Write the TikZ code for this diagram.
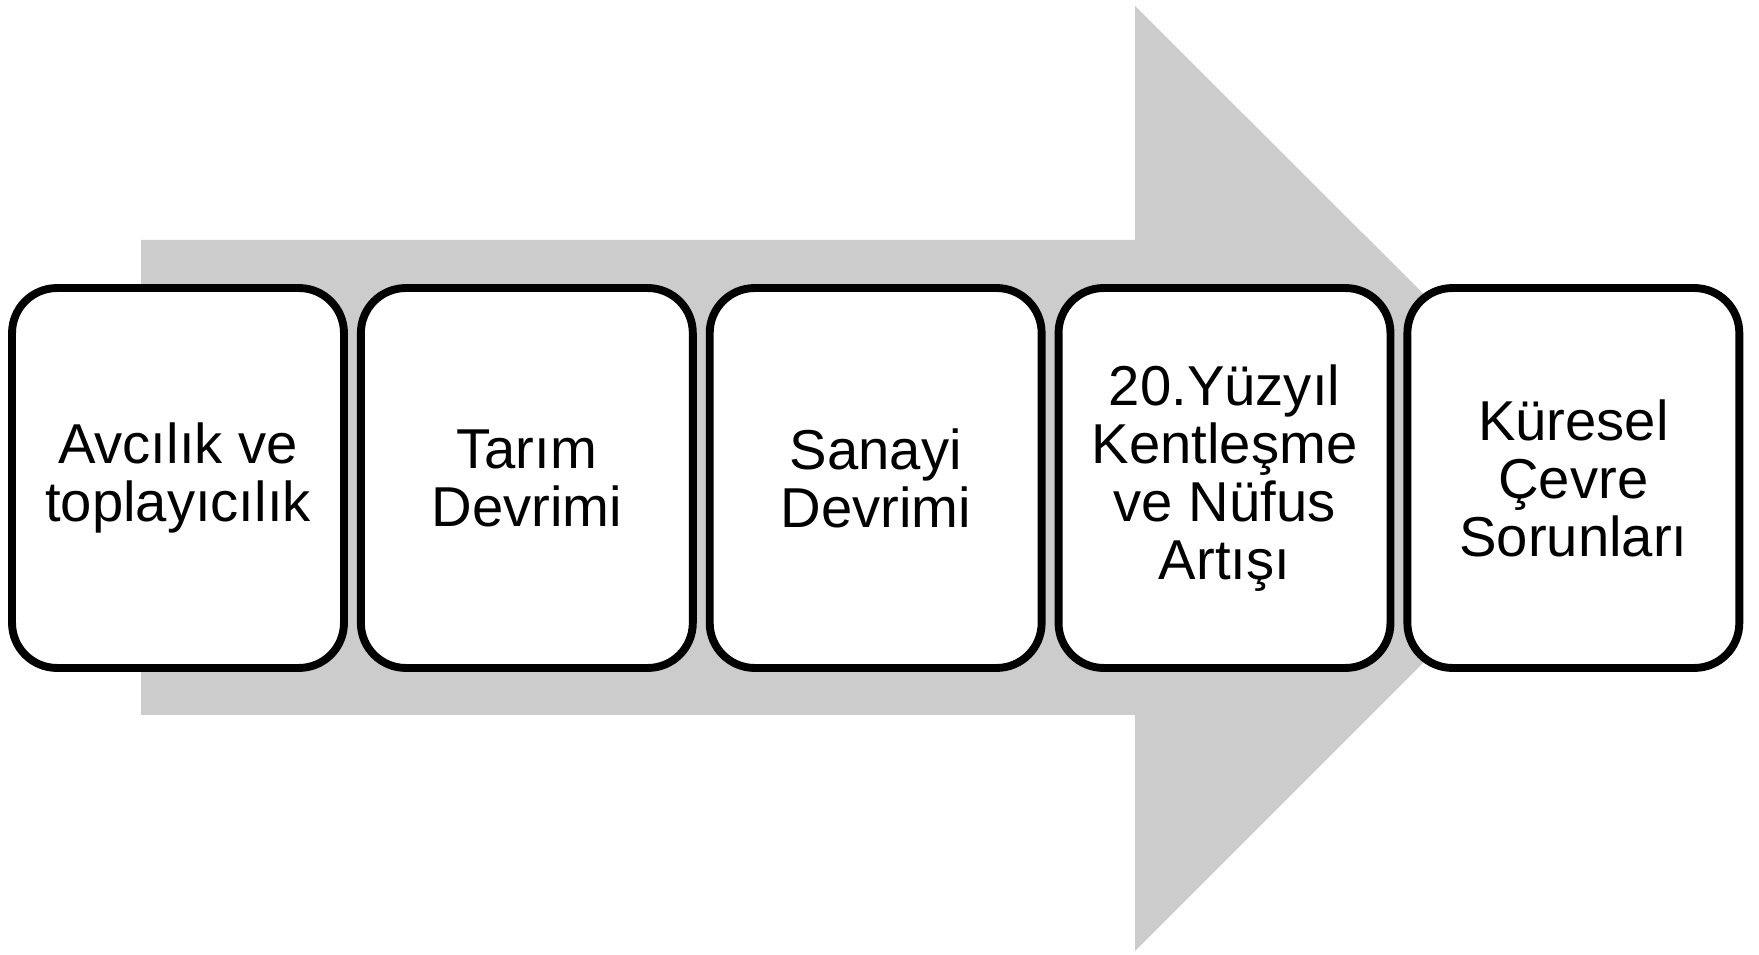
\documentclass[tikz,border=0pt]{standalone}
\usepackage{fontspec}
\setmainfont{Liberation Sans}
\usepackage{tikz}
\usetikzlibrary{positioning,backgrounds}
\definecolor{arrowgray}{RGB}{204,204,204}

\begin{document}
\begin{tikzpicture}[x=0.02cm,y=0.02cm,
		stage/.style={shape=rectangle,draw,line width=4.5pt,rounded corners=0.9cm,fill=white,
			minimum width=6.64cm,minimum height=7.6cm,align=center,
			font=\fontsize{32}{33}\selectfont}]
		\useasboundingbox (0,0) rectangle (1759,954);
		\node(1) at (178,476) [stage] {Avcılık ve\\toplayıcılık};
		\node(2) [right=0.18cm of 1,stage] {Tarım\\Devrimi};
		\node(3) [right=0.18cm of 2,stage] {Sanayi\\Devrimi};
		\node(4) [right=0.18cm of 3,stage] {20.Yüzyıl\\Kentleşme\\ve Nüfus\\Artışı};
		\node(5) [right=0.18cm of 4,stage] {Küresel\\Çevre\\Sorunları};
		\begin{scope}[on background layer]
			\fill [arrowgray] (141,714) -- (1135,714) -- (1135,948) -- (1608,476) -- (1135,3) -- (1135,239) -- (141,239) -- cycle;
		\end{scope}
	\end{tikzpicture}
\end{document}
